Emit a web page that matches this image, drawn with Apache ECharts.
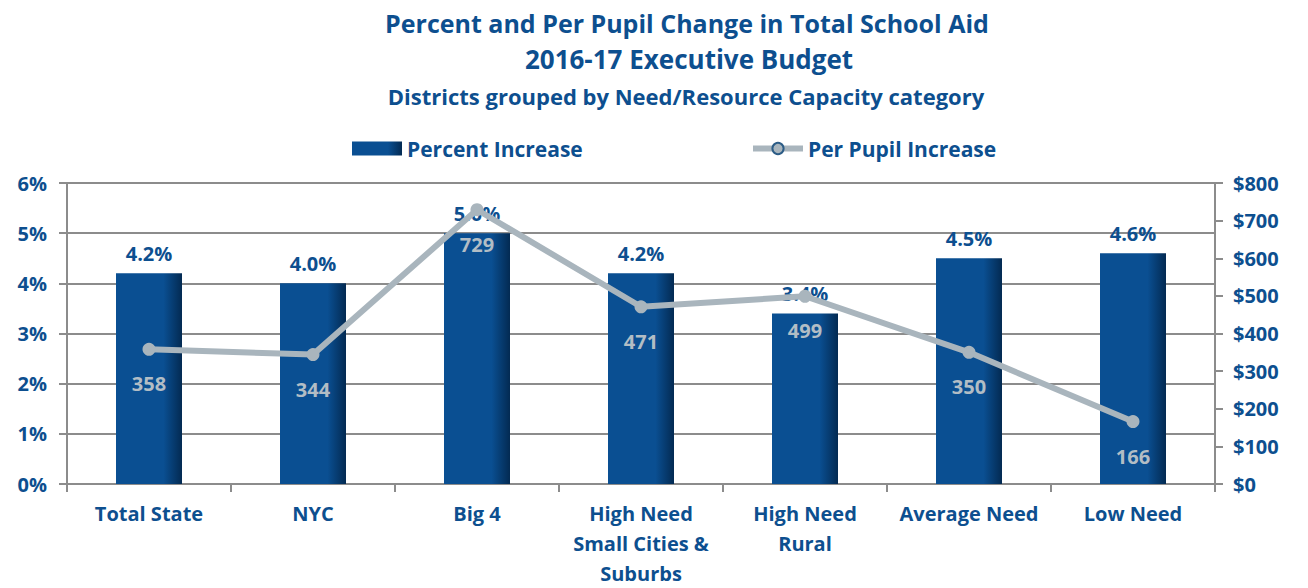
<!DOCTYPE html>
<html>
<head>
<meta charset="utf-8">
<script src="https://cdn.jsdelivr.net/npm/echarts@6/dist/echarts.min.js"></script>
<style>
  html, body { margin: 0; padding: 0; background: #fff; }
  #chart { width: 1308px; height: 588px; }
</style>
</head>
<body>
<div id="chart"></div>
<script>
var categories = ['Total State', 'NYC', 'Big 4', 'High Need\nSmall Cities &\nSuburbs', 'High Need\nRural', 'Average Need', 'Low Need'];
var percentIncrease = [4.2, 4.0, 5.0, 4.2, 3.4, 4.5, 4.6];
var perPupilIncrease = [358, 344, 729, 471, 499, 350, 166];

var blue = '#0d4f8f';
var grey = '#a9b5bd';
var axisGrey = '#8c8c8c';
var font = '"Open Sans", "DejaVu Sans", sans-serif';

var barFill = {
  type: 'linear', x: 0, y: 0, x2: 1, y2: 0,
  colorStops: [
    { offset: 0, color: '#0a4f92' },
    { offset: 0.72, color: '#0a4f92' },
    { offset: 1, color: '#032a52' }
  ]
};

var chart = echarts.init(document.getElementById('chart'), null, { renderer: 'svg' });

chart.setOption({
  animation: false,
  backgroundColor: '#fff',
  textStyle: { fontFamily: font },
  title: [
    { text: 'Percent and Per Pupil Change in Total School Aid', left: 682, textAlign: 'center', top: 5,
      textStyle: { color: blue, fontSize: 25, fontWeight: 'bold', fontFamily: font } },
    { text: '2016-17 Executive Budget', left: 684, textAlign: 'center', top: 41,
      textStyle: { color: blue, fontSize: 26, fontWeight: 'bold', fontFamily: font } },
    { text: 'Districts grouped by Need/Resource Capacity category', left: 681, textAlign: 'center', top: 80,
      textStyle: { color: blue, fontSize: 22, fontWeight: 'bold', fontFamily: font } }
  ],
  legend: [
    {
      left: 347, top: 133,
      itemWidth: 50, itemHeight: 14,
      textStyle: { color: blue, fontSize: 21, fontWeight: 'bold', fontFamily: font },
      data: [{ name: 'Percent Increase', icon: 'rect' }]
    },
    {
      left: 745, top: 133,
      itemWidth: 50, itemHeight: 14,
      textStyle: { color: blue, fontSize: 21, fontWeight: 'bold', fontFamily: font },
      data: [{ name: 'Per Pupil Increase',
        itemStyle: { color: grey, borderColor: '#2c5c86', borderWidth: 2 },
        lineStyle: { color: grey, width: 6 } }]
    }
  ],
  grid: { left: 67, right: 93, top: 183, bottom: 104 },
  xAxis: {
    type: 'category',
    data: categories,
    axisLine: { lineStyle: { color: axisGrey, width: 2 } },
    axisTick: { show: true, length: 8, lineStyle: { color: axisGrey, width: 2 } },
    axisLabel: {
      color: blue, fontSize: 20, fontWeight: 'bold', fontFamily: font,
      lineHeight: 30, margin: 14, interval: 0
    }
  },
  yAxis: [
    {
      type: 'value', min: 0, max: 6, interval: 1,
      axisLine: { show: true, lineStyle: { color: axisGrey, width: 2 } },
      axisTick: { show: true, length: 8, lineStyle: { color: axisGrey, width: 2 } },
      axisLabel: { color: blue, fontSize: 20, fontWeight: 'bold', fontFamily: font, margin: 20,
        formatter: function (v) { return v + '%'; } },
      splitLine: { lineStyle: { color: axisGrey, width: 2 } }
    },
    {
      type: 'value', min: 0, max: 800, interval: 100,
      position: 'right',
      axisLine: { show: true, lineStyle: { color: axisGrey, width: 2 } },
      axisTick: { show: true, length: 8, lineStyle: { color: axisGrey, width: 2 } },
      axisLabel: { color: blue, fontSize: 20, fontWeight: 'bold', fontFamily: font, margin: 18,
        formatter: function (v) { return '$' + v; } },
      splitLine: { show: false }
    }
  ],
  series: [
    {
      name: 'Percent Increase',
      type: 'bar',
      data: percentIncrease,
      barWidth: 66,
      itemStyle: { color: barFill },
      label: {
        show: true, position: 'top', distance: 10,
        color: blue, fontSize: 20, fontWeight: 'bold', fontFamily: font,
        formatter: function (p) { return p.value.toFixed(1) + '%'; }
      }
    },
    {
      name: 'Per Pupil Increase',
      type: 'line',
      yAxisIndex: 1,
      data: perPupilIncrease,
      symbol: 'circle',
      symbolSize: 13,
      lineStyle: { color: grey, width: 6 },
      itemStyle: { color: grey },
      label: {
        show: true, position: 'bottom', distance: 18,
        color: '#b2bdc5', fontSize: 20, fontWeight: 'bold', fontFamily: font
      },
      z: 3
    }
  ]
});
</script>
</body>
</html>
